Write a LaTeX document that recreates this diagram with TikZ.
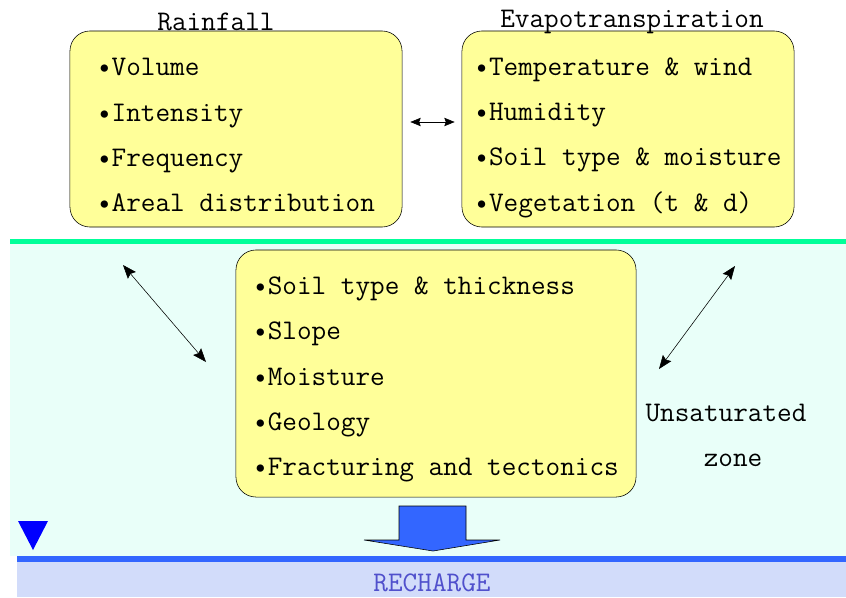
\documentclass[tikz,border=0pt]{standalone}
\usepackage{fontspec}
\usetikzlibrary{
		arrows.meta,
		calc,
		patterns,
		positioning
	}
\definecolor{boxyellow}{HTML}{FFFF99}
\definecolor{zonegreen}{HTML}{00FF99}
\definecolor{zonecyan}{HTML}{E9FFF9}
\definecolor{waterblue}{HTML}{3366FF}
\definecolor{rechargefill}{HTML}{D2DCFA}
\definecolor{rechargetext}{HTML}{5050CC}
\tikzset{
		>={Stealth[length=3.4mm, width=2.6mm, inset=0.5mm]},
		smalltips/.style={{Stealth[length=2.6mm, width=2.1mm, inset=0.4mm]}-{Stealth[length=2.6mm, width=2.1mm, inset=0.4mm]}},
		factorbox/.style={draw=black, fill=boxyellow, rounded corners=0.5cm,
			align=left, anchor=center, inner ysep=0pt,
			font=\ttfamily\fontsize{20.2}{32.2}\selectfont},
		plaintext/.style={font=\ttfamily\fontsize{20.2}{24}\selectfont, inner sep=0pt}
	}

\begin{document}
\begin{tikzpicture}[x=0.025cm, y=-0.025cm]
    \useasboundingbox (0,0) rectangle (846,597);

    % the zones
    \fill[zonecyan] (10,244) rectangle (846,556);
    \fill[rechargefill] (17,562) rectangle (846,597);
    \draw[zonegreen, line width=3.5pt] (10,241.5) -- (846,241.5);
    \draw[waterblue, line width=4.2pt] (17,559) -- (846,559);

    % the water table mark
    \fill[blue] (18,521) -- (48,521) -- (33,550) -- cycle;

    % the factor boxes (the rule pushes the lines down a bit)
    \node[factorbox, minimum width=8.3cm, minimum height=4.9cm] (rainfall) at (236,129)
        {\rule{0pt}{21pt}•Volume\\•Intensity\\•Frequency\\•Areal distribution};
    \node[factorbox, minimum width=8.3cm, minimum height=4.9cm] (evapo) at (628,129)
        {\rule{0pt}{25pt}•Temperature \& wind\\•Humidity\\•Soil type \& moisture\\•Vegetation (t \& d)};
    \node[factorbox, minimum width=10cm, minimum height=6.175cm] (terrain) at (436,373.5)
        {\rule{0pt}{21pt}•Soil type \& thickness\\•Slope\\•Moisture\\•Geology\\•Fracturing and tectonics};

    % the texts
    \node[plaintext] (raintitle) at (216,22) {Rainfall};
    \node[plaintext] (evapotitle) at (632,22) {Evapotranspiration};
    \node[plaintext] (unsat) at (726,413) {Unsaturated};
    \node[plaintext] (zone) at (733,460) {zone};
    \node[plaintext, text=rechargetext] (recharge) at (432,583) {RECHARGE};

    % free ends of the slanted arrows
    \coordinate (la) at (123,265);
    \coordinate (lb) at (206,362);
    \coordinate (ra) at (735,266);
    \coordinate (rb) at (659,369);

    % draw the arrows
    \draw[smalltips] ($(rainfall.east)+(8,-7)$) -- ($(evapo.west)+(-7,-7)$);
    \draw[<->] (la) -- (lb);
    \draw[<->] (ra) -- (rb);

    % the recharge arrow
    \filldraw[fill=waterblue, draw=black] (399,506) -- (466,506) -- (466,540) -- (500,540)
        -- (433,551) -- (364,540) -- (399,540) -- cycle;

\end{tikzpicture}
\end{document}
